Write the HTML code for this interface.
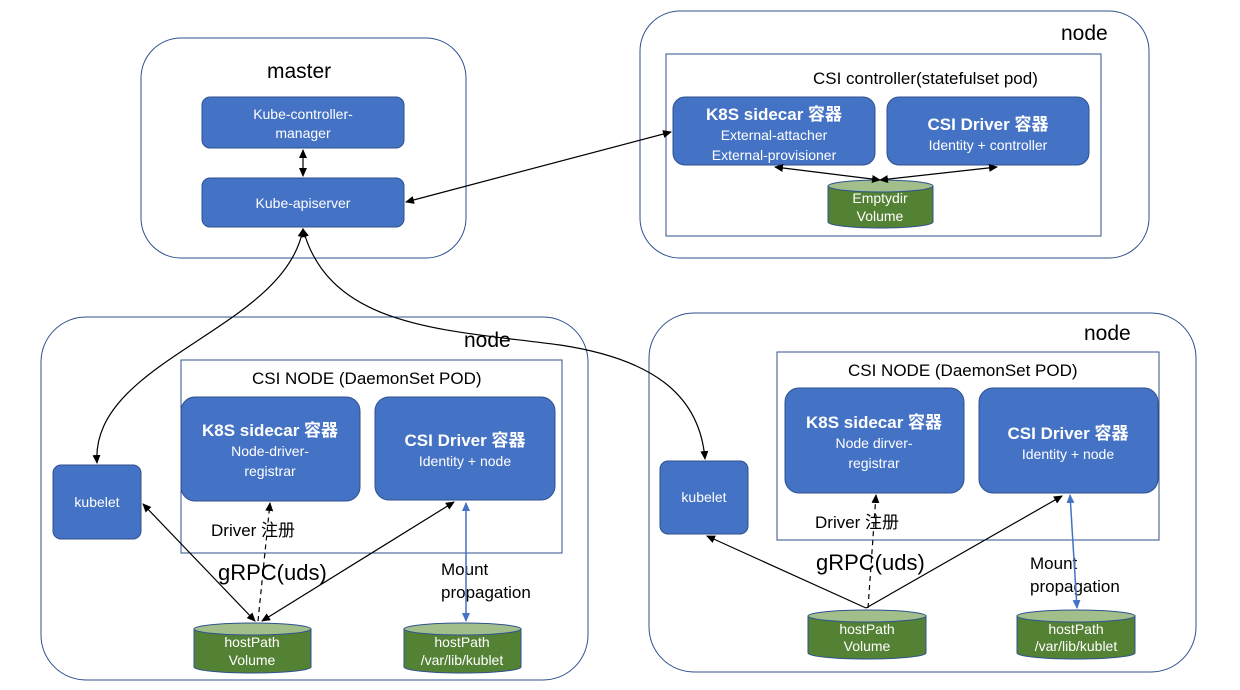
<!DOCTYPE html>
<html><head><meta charset="utf-8"><style>
body{margin:0;background:#fff}
svg{display:block}
text{font-family:"Liberation Sans","Noto Sans CJK SC",sans-serif}
</style></head><body>
<svg width="1240" height="690" viewBox="0 0 1240 690" xmlns="http://www.w3.org/2000/svg">
<defs>
<marker id="a" markerWidth="10" markerHeight="10" refX="8" refY="5" orient="auto-start-reverse" markerUnits="userSpaceOnUse"><path d="M0,1 L9,5 L0,9 z" fill="#000"/></marker>
<marker id="b" markerWidth="10" markerHeight="10" refX="8" refY="5" orient="auto-start-reverse" markerUnits="userSpaceOnUse"><path d="M0,1 L9,5 L0,9 z" fill="#4472C4"/></marker>
</defs>
<g fill="none" stroke="#2F528F" stroke-width="1">
<rect x="141" y="38" width="325" height="220" rx="40"/>
<rect x="640" y="11" width="509" height="247" rx="40"/>
<rect x="41" y="317" width="547" height="363" rx="45"/>
<rect x="649" y="313" width="547" height="359" rx="45"/>
<rect x="666" y="54" width="435" height="182"/>
<rect x="181" y="360" width="381" height="193"/>
<rect x="777" y="352" width="382" height="188"/>
</g>
<g font-size="21" fill="#000">
<text x="267" y="78">master</text>
<text x="1061" y="40">node</text>
<text x="464" y="347">node</text>
<text x="1084" y="340">node</text>
</g>
<g font-size="17" fill="#000">
<text x="813" y="84">CSI controller(statefulset pod)</text>
<text x="252" y="384">CSI NODE (DaemonSet POD)</text>
<text x="848" y="376">CSI NODE (DaemonSet POD)</text>
<text x="211" y="536">Driver 注册</text>
<text x="815" y="528">Driver 注册</text>
<text x="441" y="575">Mount</text><text x="441" y="598">propagation</text>
<text x="1030" y="569">Mount</text><text x="1030" y="592">propagation</text>
</g>
<g font-size="22" fill="#000">
<text x="218" y="580">gRPC(uds)</text>
<text x="816" y="570">gRPC(uds)</text>
</g>
<g fill="#4472C4" stroke="#2F528F">
<rect x="202" y="97" width="202" height="51" rx="8"/>
<rect x="202" y="178" width="202" height="49" rx="8"/>
<rect x="673" y="97" width="202" height="68" rx="12"/>
<rect x="887" y="97" width="202" height="68" rx="12"/>
<rect x="181" y="397" width="179" height="104" rx="14"/>
<rect x="375" y="397" width="180" height="103" rx="14"/>
<rect x="53" y="465" width="88" height="74" rx="8"/>
<rect x="785" y="388" width="179" height="105" rx="14"/>
<rect x="979" y="388" width="179" height="105" rx="14"/>
<rect x="660" y="461" width="88" height="73" rx="8"/>
</g>
<g fill="#fff" font-size="14" text-anchor="middle">
<text x="303" y="119">Kube-controller-</text><text x="303" y="138">manager</text>
<text x="303" y="208">Kube-apiserver</text>
<text x="774" y="120" font-size="17" font-weight="bold">K8S sidecar 容器</text>
<text x="774" y="140">External-attacher</text><text x="774" y="160">External-provisioner</text>
<text x="988" y="130" font-size="17" font-weight="bold">CSI Driver 容器</text>
<text x="988" y="150">Identity + controller</text>
<text x="270" y="436" font-size="17" font-weight="bold">K8S sidecar 容器</text>
<text x="270" y="456">Node-driver-</text><text x="270" y="476">registrar</text>
<text x="465" y="446" font-size="17" font-weight="bold">CSI Driver 容器</text>
<text x="465" y="466">Identity + node</text>
<text x="97" y="507">kubelet</text>
<text x="874" y="428" font-size="17" font-weight="bold">K8S sidecar 容器</text>
<text x="874" y="448">Node dirver-</text><text x="874" y="468">registrar</text>
<text x="1068" y="439" font-size="17" font-weight="bold">CSI Driver 容器</text>
<text x="1068" y="459">Identity + node</text>
<text x="704" y="502">kubelet</text>
</g>
<!-- cylinders -->
<g stroke="#2F528F">
<path d="M828,186 v36 a52.5,6 0 0 0 105,0 v-36 z" fill="#548235"/><ellipse cx="880.5" cy="186" rx="52.5" ry="6" fill="#A2BE8A"/>
<path d="M194,629 v38 a58.5,6 0 0 0 117,0 v-38 z" fill="#548235"/><ellipse cx="252.5" cy="629" rx="58.5" ry="6" fill="#A2BE8A"/>
<path d="M404,629 v38 a58.5,6 0 0 0 117,0 v-38 z" fill="#548235"/><ellipse cx="462.5" cy="629" rx="58.5" ry="6" fill="#A2BE8A"/>
<path d="M808,616 v37 a59,6 0 0 0 118,0 v-37 z" fill="#548235"/><ellipse cx="867" cy="616" rx="59" ry="6" fill="#A2BE8A"/>
<path d="M1017,616 v37 a59,6 0 0 0 118,0 v-37 z" fill="#548235"/><ellipse cx="1076" cy="616" rx="59" ry="6" fill="#A2BE8A"/>
</g>
<g fill="#fff" font-size="14" text-anchor="middle">
<text x="880" y="203">Emptydir</text><text x="880" y="221">Volume</text>
<text x="252" y="647">hostPath</text><text x="252" y="665">Volume</text>
<text x="462" y="647">hostPath</text><text x="462" y="665">/var/lib/kublet</text>
<text x="867" y="634">hostPath</text><text x="867" y="651">Volume</text>
<text x="1076" y="634">hostPath</text><text x="1076" y="651">/var/lib/kublet</text>
</g>
<!-- connectors -->
<g stroke="#000" stroke-width="1.2" fill="none" marker-start="url(#a)" marker-end="url(#a)">
<line x1="303" y1="150" x2="303" y2="176"/>
<line x1="406" y1="202" x2="671" y2="132"/>
<line x1="880" y1="180" x2="775" y2="167"/>
<line x1="880" y1="180" x2="997" y2="167"/>
<path d="M303,229 C285,330 90,360 97,463" marker-start="url(#a)"/>
<path d="M303,229 C330,330 450,330 560,345 C660,360 700,400 705,459"/>
<line x1="143" y1="504" x2="255" y2="621"/>
<line x1="454" y1="502" x2="262" y2="621"/>
<line x1="866" y1="608" x2="707" y2="536" marker-start="none"/>
<line x1="866" y1="608" x2="1062" y2="496" marker-start="none"/>
</g>
<g stroke="#000" stroke-width="1.2" stroke-dasharray="5,4" fill="none" marker-end="url(#a)">
<line x1="258" y1="621" x2="270" y2="503"/>
<line x1="868" y1="608" x2="876" y2="495"/>
</g>
<g stroke="#4472C4" stroke-width="1.5" fill="none" marker-start="url(#b)" marker-end="url(#b)">
<line x1="466" y1="503" x2="466" y2="621"/>
<line x1="1070" y1="495" x2="1077" y2="608"/>
</g>
</svg>
</body></html>
